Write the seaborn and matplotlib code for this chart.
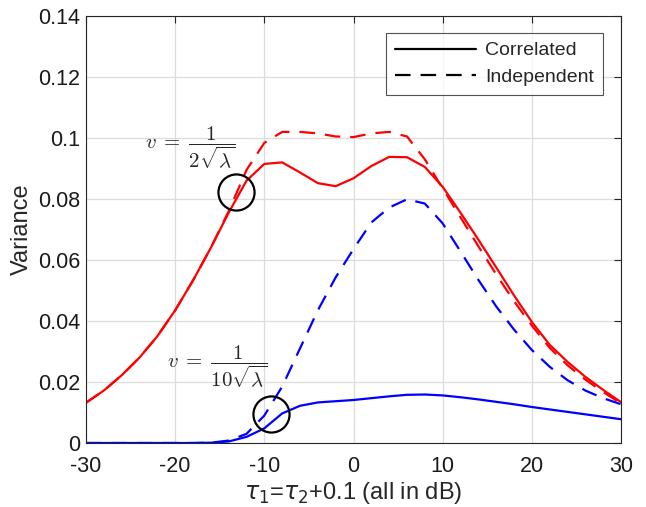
import numpy as np
import pandas as pd
import matplotlib
matplotlib.use("Agg")
import matplotlib.pyplot as plt
import seaborn as sns
from matplotlib.lines import Line2D

# ---- data ----
snr_db = [-30, -28, -26, -24, -22, -20, -18, -16, -14, -12, -10, -8, -6, -4, -2, 0,
          2, 4, 6, 8, 10, 12, 14, 16, 18, 20, 22, 24, 26, 28, 30]

red_corr = [0.0132, 0.0172, 0.0222, 0.0280, 0.0350, 0.0435, 0.0533, 0.0640, 0.0755, 0.0860,
            0.0915, 0.0920, 0.0887, 0.0852, 0.0842, 0.0868, 0.0908, 0.0938, 0.0937, 0.0905,
            0.0840, 0.0755, 0.0667, 0.0576, 0.0484, 0.0397, 0.0322, 0.0266, 0.0217, 0.0174, 0.0134]
red_ind = [0.0132, 0.0172, 0.0222, 0.0280, 0.0350, 0.0435, 0.0533, 0.0640, 0.0760, 0.0895,
           0.0984, 0.1020, 0.1020, 0.1015, 0.1005, 0.1003, 0.1015, 0.1020, 0.1005, 0.0930,
           0.0835, 0.0740, 0.0645, 0.0553, 0.0465, 0.0385, 0.0312, 0.0255, 0.0208, 0.0167, 0.0130]
blue_corr = [0.0, 0.0, 0.0, 0.0, 0.0, 0.0, 0.0, 0.0001, 0.0005, 0.0020,
             0.0048, 0.0097, 0.0122, 0.0133, 0.0137, 0.0141, 0.0147, 0.0153, 0.0158, 0.0159,
             0.0156, 0.0150, 0.0143, 0.0135, 0.0127, 0.0118, 0.0110, 0.0102, 0.0094, 0.0086, 0.0078]
blue_ind = [0.0, 0.0, 0.0, 0.0, 0.0, 0.0, 0.0, 0.0001, 0.0008, 0.0030,
            0.0090, 0.0185, 0.0310, 0.0435, 0.0543, 0.0636, 0.0723, 0.0772, 0.0799, 0.0785,
            0.0720, 0.0628, 0.0535, 0.0448, 0.0372, 0.0305, 0.0250, 0.0206, 0.0172, 0.0147, 0.0127]

series = [
    ("red", "Correlated", red_corr),
    ("red", "Independent", red_ind),
    ("blue", "Correlated", blue_corr),
    ("blue", "Independent", blue_ind),
]

xticks = [-30, -20, -10, 0, 10, 20, 30]
yticks = [0, 0.02, 0.04, 0.06, 0.08, 0.1, 0.12, 0.14]
ytick_labels = ["0", "0.02", "0.04", "0.06", "0.08", "0.1", "0.12", "0.14"]

# annotation anchors
circle_pts = [(-13.2, 0.0822), (-9.3, 0.0094)]
ann_texts = [(-23.4, 0.0968, r"$v\;=\;\dfrac{1}{2\sqrt{\lambda}}$"),
             (-20.9, 0.0250, r"$v\;=\;\dfrac{1}{10\sqrt{\lambda}}$")]

# ---- style ----
sns.set_style("white")
plt.rcParams["font.family"] = ["Liberation Sans", "DejaVu Sans"]
plt.rcParams["mathtext.fontset"] = "dejavusans"

fig = plt.figure(figsize=(6.46, 5.07), dpi=100)
ax = fig.add_axes([86 / 646, 64 / 507, 535 / 646, 427 / 507])

dash_pat = (7, 4.5)
for color, kind, vals in series:
    df = pd.DataFrame({"x": snr_db, "y": vals})
    sns.lineplot(data=df, x="x", y="y", ax=ax, color=color, linewidth=1.6,
                 legend=False, errorbar=None)
    line = ax.lines[-1]
    if kind == "Independent":
        line.set_dashes(dash_pat)

ax.set_xlim(-30, 30)
ax.set_ylim(0, 0.14)
ax.set_xticks(xticks)
ax.set_xticklabels([str(t) for t in xticks])
ax.set_yticks(yticks)
ax.set_yticklabels(ytick_labels)

ax.grid(True, color="#dcdcdc", linewidth=0.9)
ax.set_axisbelow(True)
for s in ax.spines.values():
    s.set_color("#262626")
    s.set_linewidth(0.8)
    s.set_visible(True)
ax.tick_params(axis="both", direction="in", length=5, width=0.8, color="#262626",
               top=True, right=True, labelsize=15.5, labelcolor="#1a1a1a")
ax.tick_params(axis="x", pad=9.5)
ax.tick_params(axis="y", pad=4)

ax.set_xlabel(r"$\tau_1$=$\tau_2$+0.1 (all in dB)", fontsize=17, labelpad=2)
ax.set_ylabel("Variance", fontsize=17, labelpad=4)

# circles
for cx, cy in circle_pts:
    ax.plot([cx], [cy], marker="o", markersize=26, markerfacecolor="none",
            markeredgecolor="black", markeredgewidth=1.6, linestyle="none")

for tx, ty, s in ann_texts:
    ax.text(tx, ty, s, fontsize=15, math_fontfamily="cm", ha="left", va="center")

handles = [Line2D([0], [0], color="black", linewidth=1.6),
           Line2D([0], [0], color="black", linewidth=1.6, dashes=dash_pat)]
leg = ax.legend(handles, ["Correlated", "Independent"], loc="upper right",
                bbox_to_anchor=(0.966, 0.96), fontsize=14, frameon=True,
                fancybox=False, handlelength=4.2, borderpad=0.45, labelspacing=0.45,
                handletextpad=0.45, borderaxespad=0)
leg.get_frame().set_edgecolor("#262626")
leg.get_frame().set_linewidth(0.8)

fig.savefig("out.png", dpi=100)
